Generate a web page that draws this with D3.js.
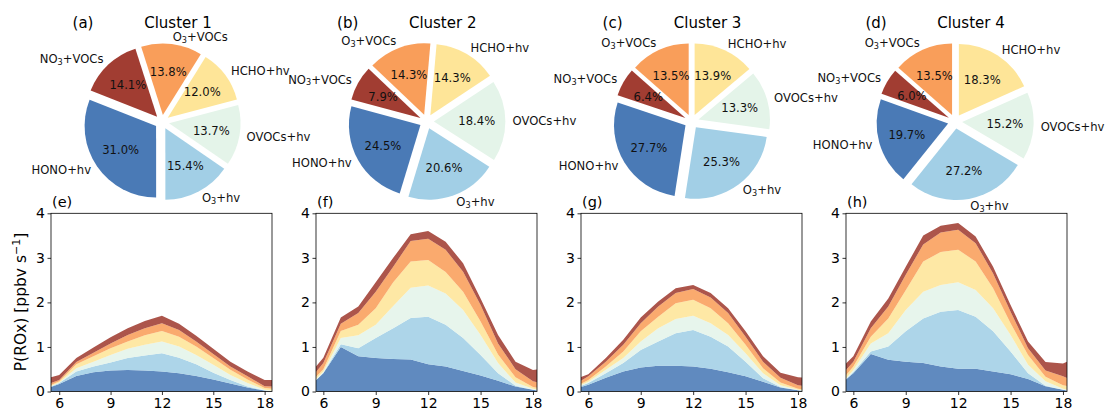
<!DOCTYPE html>
<html>
<head>
<meta charset="utf-8">
<script src="https://cdn.jsdelivr.net/npm/d3@7"></script>
<style>
body { margin: 0; background: #fff; }
svg { font-family: 'DejaVu Sans', sans-serif; }
</style>
</head>
<body>
<svg width="1105" height="412"></svg>
<script>
// radical sources, stacking order (bottom -> top)
const sources = ['HONO+hv', 'O3+hv', 'OVOCs+hv', 'HCHO+hv', 'O3+VOCs', 'NO3+VOCs'];
const colors = ['#4a7ab6', '#a2cfe6', '#e4f4e9', '#fee598', '#f99e5a', '#a13d32'];

// pie shares (%) per cluster, same order as sources
const pie1 = [31.0, 15.4, 13.7, 12.0, 13.8, 14.1];
const pie2 = [24.5, 20.6, 18.4, 14.3, 14.3, 7.9];
const pie3 = [27.7, 25.3, 13.3, 13.9, 13.5, 6.4];
const pie4 = [19.7, 27.2, 15.2, 18.3, 13.5, 6.0];

// hour of day (local)
const hours = [5.5, 6, 7, 8, 9, 10, 11, 12, 13, 14, 15, 16, 17, 18, 18.5];

// cluster 1 P(ROx) by source [ppbv s-1]
const hono1  = [0.10, 0.17, 0.35, 0.43, 0.47, 0.48, 0.47, 0.45, 0.41, 0.35, 0.27, 0.18, 0.09, 0.02, 0.00];
const o3hv1  = [0.01, 0.02, 0.10, 0.13, 0.18, 0.27, 0.34, 0.41, 0.35, 0.26, 0.15, 0.08, 0.02, 0.00, 0.00];
const ovoc1  = [0.01, 0.01, 0.07, 0.11, 0.17, 0.21, 0.24, 0.26, 0.25, 0.21, 0.18, 0.11, 0.08, 0.02, 0.02];
const hcho1  = [0.02, 0.03, 0.09, 0.12, 0.15, 0.16, 0.21, 0.24, 0.22, 0.19, 0.15, 0.12, 0.08, 0.04, 0.04];
const o3voc1 = [0.05, 0.03, 0.05, 0.08, 0.11, 0.15, 0.16, 0.17, 0.15, 0.11, 0.09, 0.07, 0.07, 0.04, 0.05];
const no3_1  = [0.13, 0.11, 0.09, 0.12, 0.14, 0.15, 0.16, 0.17, 0.14, 0.13, 0.12, 0.11, 0.11, 0.14, 0.15];

// cluster 2
const hono2  = [0.22, 0.41, 1.00, 0.79, 0.75, 0.73, 0.72, 0.61, 0.56, 0.46, 0.36, 0.24, 0.11, 0.04, 0.00];
const o3hv2  = [0.00, 0.01, 0.06, 0.18, 0.45, 0.69, 0.93, 1.07, 0.94, 0.74, 0.46, 0.17, 0.02, 0.00, 0.01];
const ovoc2  = [0.03, 0.03, 0.14, 0.29, 0.30, 0.50, 0.68, 0.70, 0.70, 0.63, 0.45, 0.23, 0.07, 0.02, 0.02];
const hcho2  = [0.05, 0.05, 0.16, 0.24, 0.37, 0.53, 0.59, 0.57, 0.48, 0.41, 0.30, 0.19, 0.12, 0.04, 0.03];
const o3voc2 = [0.10, 0.14, 0.16, 0.26, 0.37, 0.35, 0.46, 0.48, 0.50, 0.45, 0.37, 0.25, 0.18, 0.13, 0.12];
const no3_2  = [0.12, 0.12, 0.14, 0.15, 0.21, 0.20, 0.15, 0.17, 0.18, 0.19, 0.15, 0.19, 0.17, 0.25, 0.33];

// cluster 3
const hono3  = [0.09, 0.15, 0.31, 0.45, 0.54, 0.58, 0.58, 0.56, 0.51, 0.43, 0.34, 0.22, 0.09, 0.03, 0.00];
const o3hv3  = [0.02, 0.04, 0.10, 0.19, 0.39, 0.54, 0.73, 0.82, 0.72, 0.58, 0.33, 0.08, 0.01, 0.00, 0.00];
const ovoc3  = [0.02, 0.03, 0.08, 0.11, 0.19, 0.30, 0.32, 0.32, 0.30, 0.26, 0.19, 0.11, 0.04, 0.01, 0.02];
const hcho3  = [0.03, 0.04, 0.07, 0.15, 0.23, 0.26, 0.35, 0.36, 0.34, 0.26, 0.19, 0.11, 0.06, 0.02, 0.02];
const o3voc3 = [0.06, 0.08, 0.11, 0.15, 0.18, 0.23, 0.23, 0.24, 0.24, 0.23, 0.18, 0.15, 0.11, 0.08, 0.08];
const no3_3  = [0.09, 0.05, 0.08, 0.11, 0.13, 0.11, 0.11, 0.09, 0.10, 0.11, 0.12, 0.12, 0.11, 0.18, 0.19];

// cluster 4
const hono4  = [0.24, 0.41, 0.84, 0.71, 0.67, 0.64, 0.56, 0.51, 0.51, 0.45, 0.39, 0.28, 0.12, 0.04, 0.00];
const o3hv4  = [0.01, 0.03, 0.06, 0.30, 0.68, 1.00, 1.23, 1.32, 1.17, 0.90, 0.51, 0.13, 0.01, 0.00, 0.00];
const ovoc4  = [0.01, 0.04, 0.18, 0.30, 0.48, 0.60, 0.60, 0.62, 0.60, 0.52, 0.37, 0.19, 0.10, 0.02, 0.02];
const hcho4  = [0.07, 0.08, 0.15, 0.33, 0.44, 0.68, 0.74, 0.73, 0.64, 0.45, 0.26, 0.22, 0.10, 0.08, 0.08];
const o3voc4 = [0.12, 0.11, 0.19, 0.27, 0.35, 0.38, 0.44, 0.45, 0.41, 0.33, 0.26, 0.15, 0.14, 0.20, 0.16];
const no3_4  = [0.15, 0.12, 0.15, 0.18, 0.18, 0.20, 0.15, 0.15, 0.15, 0.15, 0.15, 0.15, 0.19, 0.29, 0.45];

const xTicks = [6, 9, 12, 15, 18];
const yTicks = [0, 1, 2, 3, 4];

const svg = d3.select('svg');

// build a table for d3.stack
const makeRows = cols => hours.map((h, i) => {
    const row = { hour: h };
    sources.forEach((s, k) => { row[s] = cols[k][i]; });
    return row;
});

// write "O3+VOCs" style text with a subscript 3
const writeLabel = (text, str, size) => {
    const parts = str.split('3');
    parts.forEach((p, i) => {
        const t = text.append('tspan').text(p);
        if (i > 0) t.attr('dy', -size * 0.25);   // back up after the subscript
        if (i < parts.length - 1) {
            text.append('tspan').text('3')
                .attr('font-size', size * 0.7)
                .attr('dy', size * 0.25);
        }
    });
};

////////////////////////// pies //////////////////////////
const R = 71.5;
const pieOrder = [4, 5, 0, 1, 2, 3]; // counter-clockwise, starting with O3+VOCs
const PIE_FS = 11.6;

const drawPie = (vals, cx, cy, startDeg, letter, title) => {
    const data = pieOrder.map(i => ({ name: sources[i], color: colors[i], value: vals[i] }));
    const a0 = (90 - startDeg) * Math.PI / 180;
    const pie = d3.pie().sort(null).value(d => d.value)
        .startAngle(a0).endAngle(a0 - 2 * Math.PI);
    const arc = d3.arc().innerRadius(0).outerRadius(R);
    const g = svg.append('g').attr('transform', `translate(${cx},${cy})`);

    pie(data).forEach(p => {
        const m = (p.startAngle + p.endAngle) / 2;
        const ux = Math.sin(m), uy = -Math.cos(m);
        const ox = 0.1 * R * ux, oy = 0.1 * R * uy;
        g.append('path')
            .attr('d', arc(p))
            .attr('transform', `translate(${ox},${oy})`)
            .attr('fill', p.data.color);

        const lx = ox + 1.1 * R * ux, ly = oy + 1.1 * R * uy;
        const lab = g.append('text')
            .attr('x', lx).attr('y', ly)
            .attr('dominant-baseline', 'central')
            .attr('text-anchor', lx > 0 ? 'start' : 'end')
            .attr('font-size', PIE_FS)
            .attr('fill', '#111');
        writeLabel(lab, p.data.name, PIE_FS);

        g.append('text')
            .attr('x', ox + 0.6 * R * ux).attr('y', oy + 0.6 * R * uy)
            .attr('dominant-baseline', 'central')
            .attr('text-anchor', 'middle')
            .attr('font-size', PIE_FS)
            .attr('fill', '#111')
            .text(p.data.value.toFixed(1) + '%');
    });

    svg.append('text').attr('x', cx - 79).attr('y', 28)
        .attr('text-anchor', 'middle').attr('font-size', 15).text(letter);
    svg.append('text').attr('x', cx + 16).attr('y', 28)
        .attr('text-anchor', 'middle').attr('font-size', 15).text(title);
};

drawPie(pie1, 162, 122, 58, '(a)', 'Cluster 1');
drawPie(pie2, 426.7, 121.5, 85, '(b)', 'Cluster 2');
drawPie(pie3, 691.6, 121.5, 90, '(c)', 'Cluster 3');
drawPie(pie4, 955, 121.5, 90, '(d)', 'Cluster 4');

////////////////////////// stacked areas //////////////////////////
const PW = 221;
const Y0 = 391.5, Y4 = 213.3;

const drawArea = (rows, left, xdom, letter, idx) => {
    const x = d3.scaleLinear().domain(xdom).range([left, left + PW]);
    const y = d3.scaleLinear().domain([0, 4]).range([Y0, Y4]);
    const series = d3.stack().keys(sources)(rows);
    const area = d3.area()
        .x(d => x(d.data.hour))
        .y0(d => y(d[0]))
        .y1(d => y(d[1]));

    svg.append('clipPath').attr('id', 'clip' + idx)
        .append('rect').attr('x', left).attr('y', Y4).attr('width', PW).attr('height', Y0 - Y4);

    svg.append('g').attr('clip-path', `url(#clip${idx})`)
        .selectAll('path')
        .data(series)
        .enter()
        .append('path')
        .attr('d', area)
        .attr('fill', (d, i) => colors[i])
        .attr('fill-opacity', 0.88);

    const xa = svg.append('g').attr('transform', `translate(0,${Y0})`)
        .call(d3.axisBottom(x).tickValues(xTicks).tickFormat(d3.format('d'))
            .tickSize(3.5).tickSizeOuter(0).tickPadding(3));
    const ya = svg.append('g').attr('transform', `translate(${left},0)`)
        .call(d3.axisLeft(y).tickValues(yTicks).tickFormat(d3.format('d'))
            .tickSize(3.5).tickSizeOuter(0).tickPadding(2.5));
    [xa, ya].forEach(a => {
        a.attr('font-family', null).attr('font-size', 14);
        a.select('.domain').remove();
        a.selectAll('line').attr('stroke', '#000').attr('stroke-width', 0.8);
        a.selectAll('text').attr('fill', '#000');
    });

    svg.append('rect')
        .attr('x', left).attr('y', Y4).attr('width', PW).attr('height', Y0 - Y4)
        .attr('fill', 'none').attr('stroke', '#000').attr('stroke-width', 0.8);

    svg.append('text').attr('x', left + 1).attr('y', 207)
        .attr('font-size', 14.5).text(letter);
};

drawArea(makeRows([hono1, o3hv1, ovoc1, hcho1, o3voc1, no3_1]), 51, [5.52, 18.43], '(e)', 1);
drawArea(makeRows([hono2, o3hv2, ovoc2, hcho2, o3voc2, no3_2]), 316, [5.58, 18.23], '(f)', 2);
drawArea(makeRows([hono3, o3hv3, ovoc3, hcho3, o3voc3, no3_3]), 581, [5.58, 18.23], '(g)', 3);
drawArea(makeRows([hono4, o3hv4, ovoc4, hcho4, o3voc4, no3_4]), 846, [5.58, 18.23], '(h)', 4);

// y label
const yl = svg.append('text')
    .attr('transform', 'translate(26,302) rotate(-90)')
    .attr('text-anchor', 'middle')
    .attr('font-size', 15.5);
yl.append('tspan').text('P(ROx) [ppbv s');
yl.append('tspan').text('\u22121').attr('font-size', 11).attr('dy', -6);
yl.append('tspan').text(']').attr('dy', 6);
</script>
</body>
</html>
